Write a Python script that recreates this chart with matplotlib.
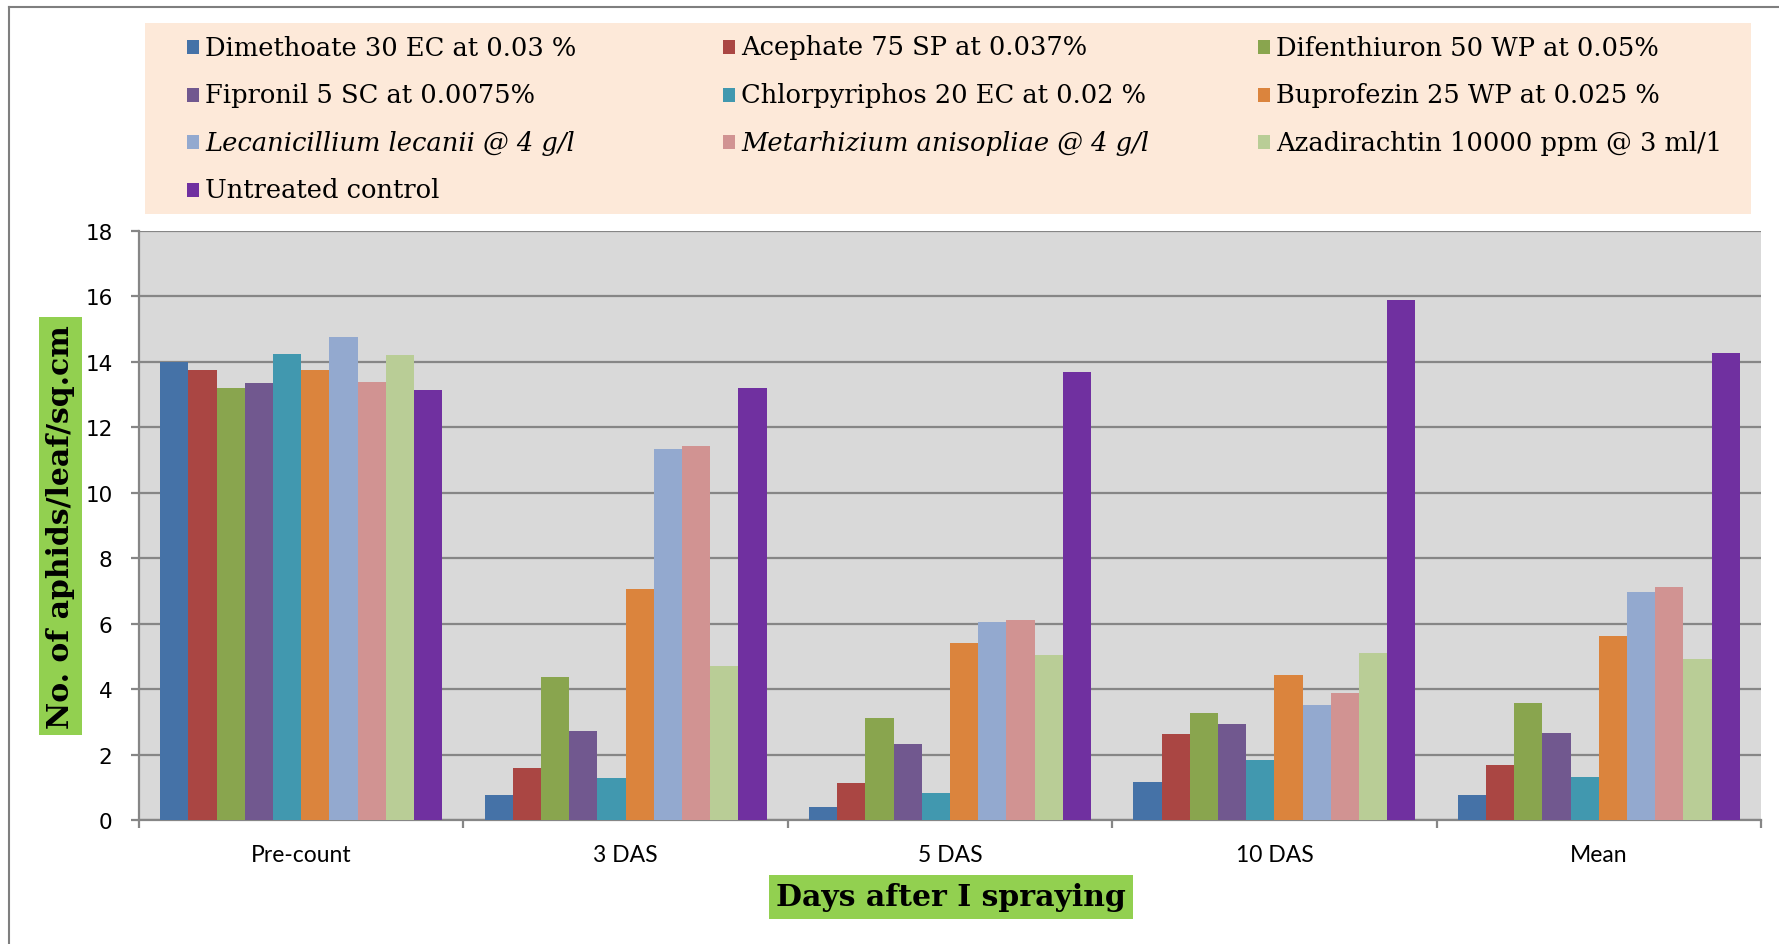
import numpy as np
import matplotlib
matplotlib.use("Agg")
import matplotlib.pyplot as plt
from matplotlib.patches import Rectangle
from matplotlib.lines import Line2D

# data
categories = ["Pre-count", "3 DAS", "5 DAS", "10 DAS", "Mean"]
treatments = [
    "Dimethoate 30 EC at 0.03 %",
    "Acephate 75 SP at 0.037%",
    "Difenthiuron 50 WP at 0.05%",
    "Fipronil 5 SC at 0.0075%",
    "Chlorpyriphos 20 EC at 0.02 %",
    "Buprofezin 25 WP at 0.025 %",
    "Lecanicillium lecanii @ 4 g/l",
    "Metarhizium anisopliae @ 4 g/l",
    "Azadirachtin 10000 ppm @ 3 ml/1",
    "Untreated control",
]
italic_names = [6, 7]

dimethoate = [14.00, 0.77, 0.39, 1.15, 0.77]
acephate = [13.74, 1.60, 1.13, 2.64, 1.68]
difenthiuron = [13.19, 4.37, 3.12, 3.27, 3.59]
fipronil = [13.34, 2.71, 2.33, 2.93, 2.66]
chlorpyriphos = [14.23, 1.29, 0.81, 1.83, 1.31]
buprofezin = [13.76, 7.05, 5.42, 4.43, 5.63]
lecanicillium = [14.76, 11.34, 6.06, 3.51, 6.98]
metarhizium = [13.40, 11.42, 6.10, 3.88, 7.13]
azadirachtin = [14.21, 4.72, 5.04, 5.10, 4.93]
untreated = [13.13, 13.21, 13.68, 15.89, 14.27]

series = [dimethoate, acephate, difenthiuron, fipronil, chlorpyriphos,
          buprofezin, lecanicillium, metarhizium, azadirachtin, untreated]

colors = ["#4572A7", "#AA4643", "#89A54E", "#71588F", "#4198AF",
          "#DB843D", "#93A9CF", "#D19392", "#B9CD96", "#7030A0"]

W, H = 1779, 945
fig = plt.figure(figsize=(W / 100, H / 100), dpi=100)
fig.patch.set_facecolor("white")

# axes box in pixel terms
left, right, top, bottom = 139, 1761, 232, 821
ax = fig.add_axes([left / W, 1 - bottom / H, (right - left) / W, (bottom - top) / H])
ax.set_facecolor("#D9D9D9")

grid_col = "#868686"
n = len(series)
bw = 1 / (n + 1.5)
x = np.arange(len(categories))
for i, vals in enumerate(series):
    ax.bar(x + (i - (n - 1) / 2) * bw, vals, width=bw, color=colors[i],
           edgecolor="none", zorder=3)

ax.set_xlim(-0.5, len(categories) - 0.5)
ax.set_ylim(0, 18)
ax.set_yticks(np.arange(0, 19, 2))
ax.yaxis.grid(True, color=grid_col, linewidth=1.6, zorder=1)
ax.set_axisbelow(True)

for s in ["top", "right"]:
    ax.spines[s].set_visible(False)
for s in ["left", "bottom"]:
    ax.spines[s].set_color(grid_col)
    ax.spines[s].set_linewidth(1.6)

ax.set_xticks(x)
ax.set_xticklabels(categories, fontfamily="Lato", fontsize=16.5)
ax.set_xticks(np.arange(-0.5, len(categories), 1), minor=True)
ax.tick_params(axis="x", which="major", length=0, pad=17)
ax.tick_params(axis="x", which="minor", length=6, width=1.6, color=grid_col)
ax.tick_params(axis="y", length=6, width=1.6, color=grid_col, pad=13, labelsize=15.5)

# legend box
fig.patches.append(Rectangle((145 / W, 1 - 215 / H), (1751 - 145) / W, (215 - 24) / H,
                             transform=fig.transFigure, facecolor="#FDE9D9",
                             edgecolor="none", zorder=0))
col_x = [187, 723, 1258]
row_y = [48, 96, 143, 191]
for i, name in enumerate(treatments):
    r, c = divmod(i, 3)
    mx, my = col_x[c], row_y[r]
    fig.patches.append(Rectangle((mx / W, 1 - (my + 7) / H), 12 / W, 14 / H,
                                 transform=fig.transFigure, facecolor=colors[i],
                                 edgecolor="none"))
    fig.text((mx + 18) / W, 1 - my / H, name, fontfamily="DejaVu Serif", fontsize=18.5,
             style="italic" if i in italic_names else "normal",
             va="center", ha="left")

# axis titles with green boxes
fig.text(60.5 / W, 1 - 527 / H, "No. of aphids/leaf/sq.cm", rotation=90,
         fontfamily="DejaVu Serif", fontweight="bold", fontsize=21.5,
         ha="center", va="center",
         bbox=dict(boxstyle="square,pad=0.25", facecolor="#92D050", edgecolor="none"))
fig.text(951 / W, 1 - 898 / H, "Days after I spraying",
         fontfamily="DejaVu Serif", fontweight="bold", fontsize=21.5,
         ha="center", va="center",
         bbox=dict(boxstyle="square,pad=0.25", facecolor="#92D050", edgecolor="none"))

# chart border
fig.add_artist(Line2D([9 / W, 9 / W], [0, 1 - 8 / H], transform=fig.transFigure,
                      color="#7F7F7F", linewidth=1.5))
fig.add_artist(Line2D([9 / W, 1], [1 - 8 / H, 1 - 8 / H], transform=fig.transFigure,
                      color="#7F7F7F", linewidth=1.5))

fig.savefig("out.png", dpi=100)
